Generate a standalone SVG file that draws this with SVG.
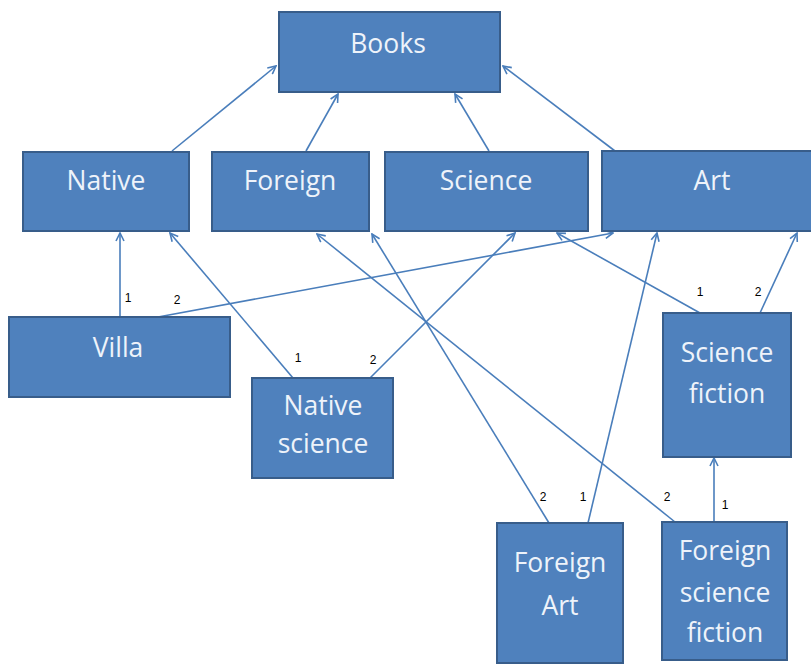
<svg xmlns="http://www.w3.org/2000/svg" width="811" height="664" viewBox="0 0 811 664">
  <style>
    .box { fill: #4F81BD; stroke: #385D8A; stroke-width: 2; }
    .name { font-family: "Open Sans", "Liberation Sans", sans-serif; font-size: 26.5px; fill: #EEF3FA; text-anchor: middle; }
    .edge { stroke: #4A7EBB; stroke-width: 1.6; fill: none; marker-end: url(#arrow); }
    .num { font-family: "Liberation Sans", "DejaVu Sans", sans-serif; font-size: 12px; fill: #000; text-anchor: middle; }
  </style>
  <defs>
    <marker id="arrow" viewBox="0 0 10 10" refX="9" refY="5" markerWidth="10" markerHeight="10" markerUnits="userSpaceOnUse" orient="auto">
      <path d="M1,1 L9,5 L1,9" fill="none" stroke="#4A7EBB" stroke-width="1.6"/>
    </marker>
  </defs>
  <rect width="811" height="664" fill="#FFFFFF"/>

  <!-- connectors -->
  <g id="connectors">
    <line class="edge" x1="172" y1="151" x2="276" y2="66"/>
    <line class="edge" x1="306" y1="151" x2="338" y2="94"/>
    <line class="edge" x1="489" y1="151" x2="455" y2="94"/>
    <line class="edge" x1="615" y1="151" x2="503" y2="66"/>

    <line class="edge" x1="120" y1="317" x2="120" y2="233"/>
    <line class="edge" x1="158" y1="317" x2="613" y2="233"/>
    <line class="edge" x1="293" y1="378" x2="170" y2="233"/>
    <line class="edge" x1="370" y1="378" x2="515" y2="233"/>
    <line class="edge" x1="700" y1="313" x2="557" y2="233"/>
    <line class="edge" x1="760" y1="313" x2="797" y2="233"/>
    <line class="edge" x1="549" y1="523" x2="372" y2="234"/>
    <line class="edge" x1="588" y1="523" x2="657" y2="233"/>
    <line class="edge" x1="675" y1="522" x2="317" y2="234"/>
    <line class="edge" x1="714" y1="522" x2="714" y2="458"/>

    <text class="num" x="128" y="302">1</text>
    <text class="num" x="177" y="304">2</text>
    <text class="num" x="298" y="362">1</text>
    <text class="num" x="373" y="364">2</text>
    <text class="num" x="700" y="296">1</text>
    <text class="num" x="758" y="296">2</text>
    <text class="num" x="543" y="501">2</text>
    <text class="num" x="583" y="501">1</text>
    <text class="num" x="667" y="501">2</text>
    <text class="num" x="725" y="509">1</text>
  </g>

  <!-- nodes -->
  <g id="books">
    <rect class="box" x="279" y="12" width="221" height="80"/>
    <text class="name" x="388" y="53">Books</text>
  </g>
  <g id="native">
    <rect class="box" x="23" y="152" width="166" height="79"/>
    <text class="name" x="106" y="190">Native</text>
  </g>
  <g id="foreign">
    <rect class="box" x="212" y="152" width="157" height="79"/>
    <text class="name" x="290" y="190">Foreign</text>
  </g>
  <g id="science">
    <rect class="box" x="385" y="152" width="203" height="79"/>
    <text class="name" x="486" y="190">Science</text>
  </g>
  <g id="art">
    <rect class="box" x="602" y="151" width="220" height="80"/>
    <text class="name" x="712" y="190">Art</text>
  </g>
  <g id="villa">
    <rect class="box" x="9" y="317" width="221" height="80"/>
    <text class="name" x="118" y="357">Villa</text>
  </g>
  <g id="native-science">
    <rect class="box" x="252" y="378" width="141" height="100"/>
    <text class="name" x="323" y="415">Native</text>
    <text class="name" x="323" y="453">science</text>
  </g>
  <g id="science-fiction">
    <rect class="box" x="663" y="313" width="128" height="144"/>
    <text class="name" x="727" y="362">Science</text>
    <text class="name" x="727" y="403">fiction</text>
  </g>
  <g id="foreign-art">
    <rect class="box" x="497" y="523" width="126" height="140"/>
    <text class="name" x="560" y="572">Foreign</text>
    <text class="name" x="560" y="615">Art</text>
  </g>
  <g id="foreign-science-fiction">
    <rect class="box" x="662" y="522" width="125" height="138"/>
    <text class="name" x="725" y="560">Foreign</text>
    <text class="name" x="725" y="602">science</text>
    <text class="name" x="725" y="642">fiction</text>
  </g>
</svg>
